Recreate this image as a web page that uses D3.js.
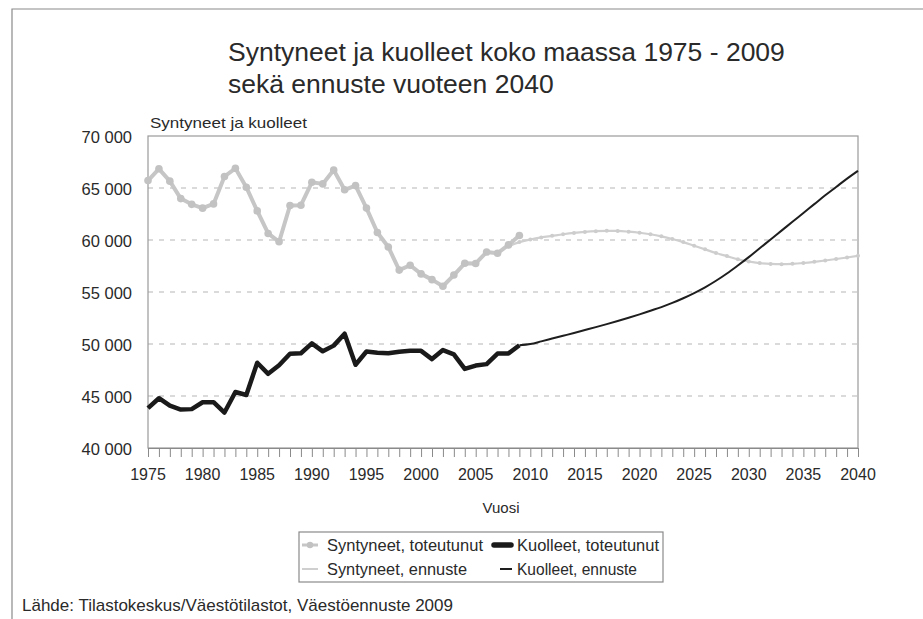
<!DOCTYPE html>
<html><head><meta charset="utf-8">
<script src="https://cdn.jsdelivr.net/npm/d3@7"></script>
<style>
body{margin:0;background:#fff;}
svg{display:block;font-family:"Liberation Sans",Arial,sans-serif;}
</style></head>
<body><svg id="c" width="923" height="619"></svg>
<script>
const birthYears = d3.range(1975, 2010);
const birthsActual = [65719,66846,65659,63983,63428,63064,63469,66106,66892,65076,62796,60632,59827,63316,63348,65549,65395,66731,64826,65231,63067,60723,59329,57108,57574,56742,56189,55555,56630,57758,57745,58840,58729,59530,60430];
const deathsActual = [43828,44786,44065,43692,43738,44398,44404,43408,45388,45098,48198,47135,47949,49063,49110,50058,49294,49844,50988,48000,49280,49167,49108,49262,49345,49339,48550,49418,48996,47600,47928,48065,49077,49094,49883];
const birthForecastYears = d3.range(2008, 2041);
const birthsForecast = [59400,59800,60050,60250,60400,60550,60680,60780,60850,60880,60870,60800,60700,60550,60350,60100,59800,59450,59100,58750,58450,58150,57930,57780,57700,57680,57710,57790,57900,58030,58170,58320,58480];
const deathForecastYears = d3.range(2009, 2041);
const deathsForecast = [49883,50000,50250,50520,50790,51060,51340,51620,51910,52210,52520,52850,53200,53550,53950,54400,54900,55450,56080,56780,57550,58350,59200,60050,60900,61750,62600,63450,64300,65100,65900,66650];
const yTicks = [40000,45000,50000,55000,60000,65000,70000];
const xTickLabels = [1975,1980,1985,1990,1995,2000,2005,2010,2015,2020,2025,2030,2035,2040];
const titleLines = ["Syntyneet ja kuolleet koko maassa 1975 - 2009","sekä ennuste vuoteen 2040"];
const legendLabels = ["Syntyneet, toteutunut","Kuolleet, toteutunut","Syntyneet, ennuste","Kuolleet, ennuste"];

const svg = d3.select("#c");
const L=148,R=858,T=136,B=448;
const x = d3.scaleLinear().domain([1975,2040]).range([L,R]);
const y = d3.scaleLinear().domain([40000,70000]).range([B,T]);
const fmt = v => d3.format(",")(v).replace(/,/g," ");
const ink = "#2a2a2a";

// outer frame
svg.append("path").attr("d","M12,619V9H923").attr("fill","none").attr("stroke","#8a8a8a").attr("stroke-width",1.2);

// title
svg.append("g").selectAll("text").data(titleLines).join("text")
  .attr("x",228).attr("y",(d,i)=>61+i*32).attr("font-size",26.5).attr("fill",ink).text(d=>d);

svg.append("text").attr("x",150).attr("y",128).attr("font-size",15)
  .attr("textLength",157).attr("lengthAdjust","spacingAndGlyphs").attr("fill",ink).text("Syntyneet ja kuolleet");

// grid
svg.append("g").selectAll("line").data(yTicks.filter(v=>v>40000&&v<70000)).join("line")
  .attr("x1",L).attr("x2",R).attr("y1",d=>y(d)).attr("y2",d=>y(d))
  .attr("stroke","#b5b5b5").attr("stroke-dasharray","5,6").attr("stroke-width",1);

// plot frame
svg.append("rect").attr("x",L).attr("y",T).attr("width",R-L).attr("height",B-T).attr("fill","none").attr("stroke","#9a9a9a").attr("stroke-width",1.2);

// y axis labels
svg.append("g").selectAll("text").data(yTicks).join("text")
  .attr("x",132).attr("y",d=>y(d)+6.5).attr("text-anchor","end").attr("font-size",16.5).attr("fill",ink).text(fmt);

// x axis
const xa = svg.append("g").attr("transform",`translate(0,${B})`)
  .call(d3.axisBottom(x).tickValues(d3.range(1975,2041)).tickSize(9).tickFormat(""));
xa.select(".domain").attr("stroke","#8a8a8a");
xa.selectAll(".tick line").attr("stroke","#8a8a8a");
svg.append("g").selectAll("text").data(xTickLabels).join("text")
  .attr("x",d=>x(d)).attr("y",480).attr("text-anchor","middle").attr("font-size",16).attr("fill",ink).text(d=>d);
svg.append("text").attr("x",501).attr("y",513).attr("text-anchor","middle").attr("font-size",15).attr("fill",ink).text("Vuosi");

const line = d3.line().x(d=>x(d[0])).y(d=>y(d[1]));
const zip = (a,b)=>a.map((v,i)=>[v,b[i]]);

// births forecast
const bf = zip(birthForecastYears,birthsForecast);
svg.append("path").datum(bf).attr("d",line.curve(d3.curveMonotoneX)).attr("fill","none").attr("stroke","#cfcfcf").attr("stroke-width",2.2);
svg.append("g").selectAll("circle").data(bf).join("circle").attr("cx",d=>x(d[0])).attr("cy",d=>y(d[1])).attr("r",2).attr("fill","#cdcdcd");

// births actual
const ba = zip(birthYears,birthsActual);
svg.append("path").datum(ba).attr("d",line.curve(d3.curveLinear)).attr("fill","none").attr("stroke","#c6c6c6").attr("stroke-width",4).attr("stroke-linejoin","round");
svg.append("g").selectAll("circle").data(ba).join("circle")
  .attr("cx",d=>x(d[0])).attr("cy",d=>y(d[1])).attr("r",3.8).attr("fill","#c2c2c2");

// deaths forecast
svg.append("path").datum(zip(deathForecastYears,deathsForecast)).attr("d",line.curve(d3.curveMonotoneX)).attr("fill","none").attr("stroke","#1e1e1e").attr("stroke-width",2);

// deaths actual
svg.append("path").datum(zip(birthYears,deathsActual)).attr("d",line.curve(d3.curveLinear)).attr("fill","none").attr("stroke","#1a1a1a").attr("stroke-width",4.5).attr("stroke-linejoin","round");

// legend
svg.append("rect").attr("x",299).attr("y",532).attr("width",364).attr("height",50).attr("fill","#fff").attr("stroke","#8a8a8a").attr("stroke-width",1.2);
const lg = svg.append("g");
const items = [
  {x1:302,x2:318,y:545,color:"#c6c6c6",w:3,marker:true,tx:327,tl:156},
  {x1:494,x2:511,y:545,color:"#1a1a1a",w:5.5,marker:false,tx:517,tl:142},
  {x1:302,x2:318,y:569,color:"#cfcfcf",w:2,marker:false,tx:327,tl:140},
  {x1:500,x2:512,y:569,color:"#1e1e1e",w:2,marker:false,tx:517,tl:120}
];
items.forEach((it,i)=>{
  lg.append("line").attr("x1",it.x1).attr("x2",it.x2).attr("y1",it.y).attr("y2",it.y).attr("stroke",it.color).attr("stroke-width",it.w).attr("stroke-linecap",i===1?"round":"butt");
  if(it.marker) lg.append("circle").attr("cx",(it.x1+it.x2)/2).attr("cy",it.y).attr("r",3.2).attr("fill","#c2c2c2");
  lg.append("text").attr("x",it.tx).attr("y",it.y+6).attr("font-size",17).attr("textLength",it.tl).attr("lengthAdjust","spacingAndGlyphs").attr("fill",ink).text(legendLabels[i]);
});

svg.append("text").attr("x",22).attr("y",611).attr("font-size",17).attr("fill",ink).text("Lähde: Tilastokeskus/Väestötilastot, Väestöennuste 2009");
</script></body></html>
